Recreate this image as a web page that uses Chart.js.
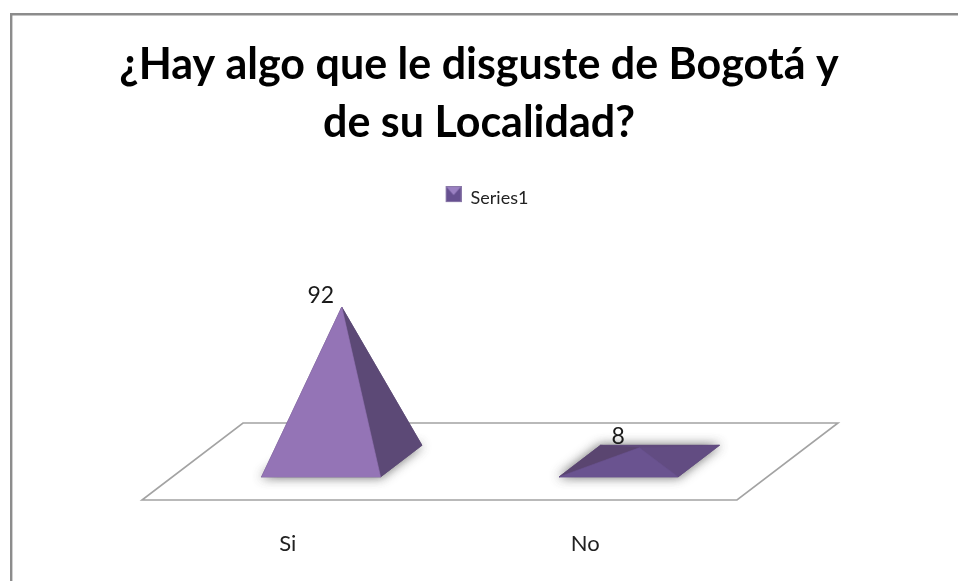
<!DOCTYPE html>
<html>
<head>
<meta charset="utf-8">
<style>html,body{margin:0;padding:0;background:#fff}canvas{display:block}</style>
<script src="https://cdn.jsdelivr.net/npm/chart.js@4"></script>
</head>
<body>
<div style="width:958px;height:581px"><canvas id="c" width="958" height="581"></canvas></div>
<script>
const titleLines = ['¿Hay algo que le disguste de Bogotá y', 'de su Localidad?'];
const categories = ['Si', 'No'];
const seriesName = 'Series1';
const values = [92, 8];

const faceColors = [
  {front: '#9474B6', right: '#5C4976', left: '#5C4976', back: '#5C4976'},
  {front: '#6A5390', right: '#624C82', left: '#5A4570', back: '#5F4A7C'}
];

// floor depth in pixels: how far the back edge sits from the front edge
const DEPTH_X = 101, DEPTH_Y = 77;
const atDepth = (x, y, f) => [x + DEPTH_X * f, y - DEPTH_Y * f];

function legendMarker() {
  const m = document.createElement('canvas');
  m.width = 32; m.height = 24;
  const g = m.getContext('2d');
  g.translate(16, 0);
  g.fillStyle = '#665090'; g.fillRect(1, 1, 14, 14);
  g.fillStyle = '#9A80C2';
  g.beginPath(); g.moveTo(1, 1); g.lineTo(15, 1); g.lineTo(8, 9); g.closePath(); g.fill();
  g.strokeStyle = '#8A78A8'; g.lineWidth = 1; g.strokeRect(0.5, 0.5, 15, 15);
  return m;
}

function poly(ctx, pts, color) {
  ctx.beginPath();
  pts.forEach((p, i) => i ? ctx.lineTo(p[0], p[1]) : ctx.moveTo(p[0], p[1]));
  ctx.closePath();
  ctx.fillStyle = color;
  ctx.fill();
  ctx.strokeStyle = color;
  ctx.lineWidth = 0.6;
  ctx.stroke();
}

const pyramidPlugin = {
  id: 'pyramid',
  beforeDraw(chart) {
    const ctx = chart.ctx;
    ctx.save();
    ctx.fillStyle = '#fff';
    ctx.fillRect(0, 0, chart.width, chart.height);
    ctx.strokeStyle = '#8C8C8C';
    ctx.lineWidth = 2.4;
    ctx.beginPath();
    ctx.moveTo(11.2, chart.height);
    ctx.lineTo(11.2, 14.3);
    ctx.lineTo(chart.width, 14.3);
    ctx.stroke();
    ctx.restore();
  },
  beforeDatasetsDraw(chart) {
    const ctx = chart.ctx, a = chart.chartArea;
    const y0 = chart.scales.y.getPixelForValue(0);
    ctx.save();
    ctx.strokeStyle = '#A3A3A3';
    ctx.lineWidth = 1.6;
    ctx.beginPath();
    ctx.moveTo(a.left, y0);
    ctx.lineTo(a.right, y0);
    ctx.lineTo(...atDepth(a.right, y0, 1));
    ctx.lineTo(...atDepth(a.left, y0, 1));
    ctx.closePath();
    ctx.stroke();
    ctx.restore();
  },
  afterDatasetsDraw(chart) {
    const ctx = chart.ctx;
    chart.getDatasetMeta(0).data.forEach((bar, i) => {
      const l = bar.x - bar.width / 2, r = bar.x + bar.width / 2;
      const fl = atDepth(l, bar.base, 0.30), fr = atDepth(r, bar.base, 0.30);
      const bl = atDepth(l, bar.base, 0.71), br = atDepth(r, bar.base, 0.71);
      const apex = atDepth(bar.x, bar.y, 0.505);
      const c = faceColors[i];
      ctx.save();
      ctx.shadowColor = 'rgba(70,70,70,0.8)';
      ctx.shadowBlur = 11;
      poly(ctx, [fl, fr, br, bl], c.back);
      ctx.restore();
      ctx.save();
      poly(ctx, [bl, br, apex], c.back);
      poly(ctx, [fl, bl, apex], c.left);
      poly(ctx, [fr, br, apex], c.right);
      poly(ctx, [fl, fr, apex], c.front);
      ctx.fillStyle = '#1a1a1a';
      ctx.font = '23px Lato';
      ctx.textAlign = 'center';
      ctx.textBaseline = 'middle';
      ctx.fillText(String(values[i]), bar.x + 30, bar.y - 50);
      ctx.restore();
    });
  }
};

new Chart(document.getElementById('c'), {
  type: 'bar',
  plugins: [pyramidPlugin],
  data: {
    labels: categories,
    datasets: [{
      label: seriesName,
      data: values,
      backgroundColor: 'transparent',
      borderWidth: 0,
      barPercentage: 1,
      categoryPercentage: 0.4
    }]
  },
  options: {
    responsive: false,
    animation: false,
    events: [],
    layout: {padding: 0},
    plugins: {
      tooltip: {enabled: false},
      title: {
        display: true,
        text: titleLines,
        color: '#000',
        font: {family: 'Lato', size: 43, weight: 'bold', lineHeight: 1.35},
        padding: {top: 36, bottom: 2}
      },
      legend: {
        display: true,
        position: 'top',
        labels: {
          usePointStyle: true,
          pointStyle: legendMarker(),
          pointStyleWidth: 32,
          color: '#222',
          font: {family: 'Lato', size: 18},
          padding: 35
        }
      }
    },
    scales: {
      x: {
        grid: {display: false, drawTicks: false},
        border: {display: false},
        ticks: {color: '#222', font: {family: 'Lato', size: 22}, padding: 31, labelOffset: -3, maxRotation: 0},
        afterFit(s) { s.height = 81; }
      },
      y: {
        min: 0, max: 169,
        grid: {display: false, drawTicks: false},
        border: {display: false},
        ticks: {display: false},
        afterFit(s) { s.width = 142; }
      },
      yr: {
        position: 'right',
        min: 0, max: 169,
        grid: {display: false, drawTicks: false},
        border: {display: false},
        ticks: {display: false},
        afterFit(s) { s.width = 221; }
      }
    }
  }
});
</script>
</body>
</html>
